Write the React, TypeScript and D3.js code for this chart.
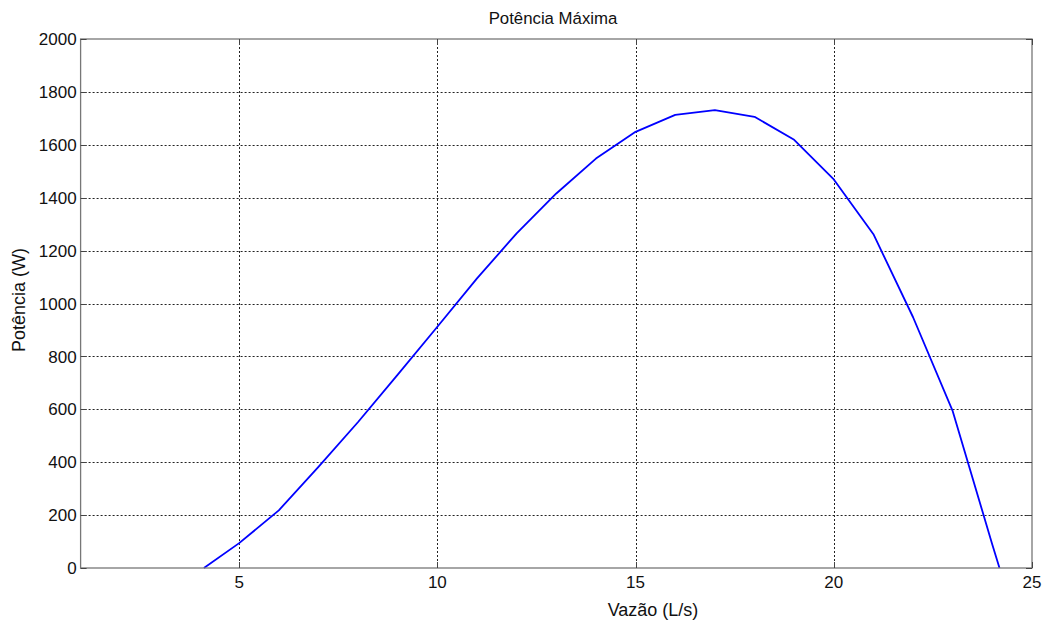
import { useEffect, useRef } from 'react';
import * as d3 from 'd3';

// Vazão (L/s) vs Potência (W)
const vazao = [4.11, 5, 6, 7, 8, 9, 10, 11, 12, 13, 14, 15, 16, 17, 18, 19, 20, 21, 22, 23, 24, 24.18];
const potencia = [0, 94, 218, 382, 552, 731, 912, 1095, 1265, 1416, 1548, 1649, 1713, 1731, 1706, 1619, 1469, 1262, 948, 593, 88, 0];
const xTicks = [5, 10, 15, 20, 25];
const yTicks = [0, 200, 400, 600, 800, 1000, 1200, 1400, 1600, 1800, 2000];

export default function App() {
  const svgRef = useRef<SVGSVGElement>(null);

  useEffect(() => {
    if (!svgRef.current) return;
    const width = 1043;
    const height = 622;
    const margin = { top: 39, right: 11, bottom: 54, left: 80.6 };
    const font = 'Arial, "Liberation Sans", sans-serif';

    const svg = d3.select(svgRef.current);
    svg.selectAll("*").remove();

    const x = d3.scaleLinear().domain([1, 25]).range([margin.left, width - margin.right]);
    const y = d3.scaleLinear().domain([0, 2000]).range([height - margin.bottom, margin.top]);

    svg.append("rect").attr("width", width).attr("height", height).attr("fill", "#fff");

    // grid
    const grid = svg.append("g").attr("stroke", "#222").attr("stroke-width", 1).attr("stroke-dasharray", "2,2");
    xTicks.filter(t => t < 25).forEach(t => {
      grid.append("line").attr("x1", Math.round(x(t)) + 0.5).attr("x2", Math.round(x(t)) + 0.5)
        .attr("y1", y(2000)).attr("y2", y(0));
    });
    yTicks.filter(t => t > 0 && t < 2000).forEach(t => {
      grid.append("line").attr("x1", x(1)).attr("x2", x(25))
        .attr("y1", Math.round(y(t)) + 0.5).attr("y2", Math.round(y(t)) + 0.5);
    });

    // curve
    const line = d3.line<number>().x((d, i) => x(vazao[i])).y(d => y(d));
    svg.append("path").datum(potencia).attr("d", line).attr("fill", "none")
      .attr("stroke", "#0000ff").attr("stroke-width", 1.8).attr("stroke-linejoin", "round");

    // box
    svg.append("rect").attr("x", x(1)).attr("y", y(2000)).attr("width", x(25) - x(1)).attr("height", y(0) - y(2000))
      .attr("fill", "none").attr("stroke", "#777").attr("stroke-width", 1.3);

    // ticks (inward, all sides)
    const ticks = svg.append("g").attr("stroke", "#444").attr("stroke-width", 1);
    const tl = 6;
    xTicks.forEach(t => {
      const px = Math.round(x(t)) + 0.5;
      ticks.append("line").attr("x1", px).attr("x2", px).attr("y1", y(0)).attr("y2", y(0) - tl);
      ticks.append("line").attr("x1", px).attr("x2", px).attr("y1", y(2000)).attr("y2", y(2000) + tl);
    });
    yTicks.forEach(t => {
      const py = Math.round(y(t)) + 0.5;
      ticks.append("line").attr("x1", x(1)).attr("x2", x(1) + tl).attr("y1", py).attr("y2", py);
      ticks.append("line").attr("x1", x(25)).attr("x2", x(25) - tl).attr("y1", py).attr("y2", py);
    });

    // tick labels
    svg.append("g").selectAll("text").data(xTicks).join("text")
      .attr("x", d => x(d)).attr("y", y(0) + 20)
      .attr("text-anchor", "middle").attr("font-family", font).attr("font-size", 17).attr("fill", "#111")
      .text(d => d);
    svg.append("g").selectAll("text").data(yTicks).join("text")
      .attr("x", x(1) - 4).attr("y", d => y(d)).attr("dy", "0.36em")
      .attr("text-anchor", "end").attr("font-family", font).attr("font-size", 17).attr("fill", "#111")
      .text(d => d);

    // titles
    svg.append("text").attr("x", 553).attr("y", 24)
      .attr("text-anchor", "middle").attr("font-family", font).attr("font-size", 16.8).attr("fill", "#111")
      .text("Potência Máxima");
    svg.append("text").attr("x", 653).attr("y", 616)
      .attr("text-anchor", "middle").attr("font-family", font).attr("font-size", 18).attr("fill", "#111")
      .text("Vazão (L/s)");
    svg.append("text").attr("transform", `translate(25,300) rotate(-90)`)
      .attr("text-anchor", "middle").attr("font-family", font).attr("font-size", 18).attr("fill", "#111")
      .text("Potência (W)");
  }, []);

  return (
    <svg ref={svgRef} width={1043} height={622} style={{ position: "absolute", left: 0, top: 0 }} />
  );
}
